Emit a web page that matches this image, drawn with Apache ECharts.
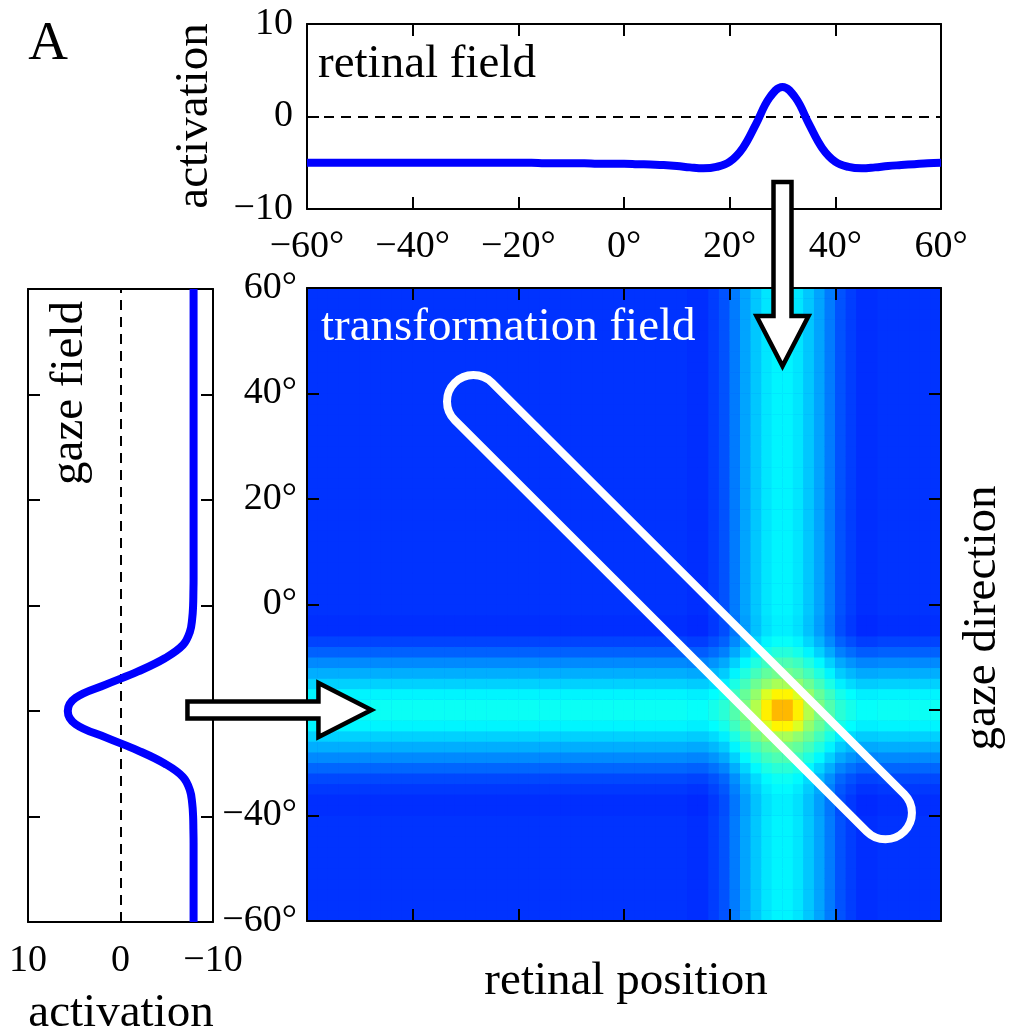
<!DOCTYPE html>
<html>
<head>
<meta charset="utf-8">
<title>transformation field</title>
<script src="https://cdn.jsdelivr.net/npm/echarts@6/dist/echarts.min.js"></script>
<style>
html, body { margin: 0; padding: 0; background: #fff; }
#main { width: 1012px; height: 1033px; }
</style>
</head>
<body>
<div id="main"></div>
<script>
// sample positions (deg) of the two 1D fields
var fieldPos = [-60, -57.5, -55, -52.5, -50, -47.5, -45, -42.5, -40, -37.5, -35, -32.5, -30, -27.5, -25, -22.5,
    -20, -17.5, -15, -12.5, -10, -7.5, -5, -2.5, 0, 2.5, 5, 7.5, 10, 12.5, 15, 17.5, 20, 22.5, 25, 27.5,
    30, 32.5, 35, 37.5, 40, 42.5, 45, 47.5, 50, 52.5, 55, 57.5, 60];
// retinal field activation (top)
var retinalField = [-5.0, -5.0, -5.0, -5.0, -5.0, -5.0, -5.0, -5.0, -5.0, -5.0, -5.0, -5.0, -5.0, -5.0, -5.0, -5.0,
    -5.0, -5.0, -5.05, -5.05, -5.05, -5.05, -5.1, -5.1, -5.1, -5.15, -5.2, -5.25, -5.35, -5.5, -5.6, -5.45, -4.9, -3.4, -0.8, 2.0,
    3.2, 2.0, -0.8, -3.4, -4.9, -5.45, -5.6, -5.5, -5.35, -5.25, -5.15, -5.05, -5.0];
// gaze field activation (left), same positions
var gazeField = [-7.9, -7.9, -7.9, -7.9, -7.9, -7.9, -7.9, -7.88, -7.85, -7.75, -7.5, -6.75, -4.8, -1.9, 1.6, 4.85,
    5.7, 4.85, 1.6, -1.9, -4.8, -6.75, -7.5, -7.75, -7.85, -7.88, -7.9, -7.9, -7.9, -7.9, -7.9, -7.9, -7.9, -7.9, -7.9, -7.9,
    -7.9, -7.9, -7.9, -7.9, -7.9, -7.9, -7.9, -7.9, -7.9, -7.9, -7.9, -7.9, -7.9];

// transformation field cells, 2 deg wide
var cellPos = [-59, -57, -55, -53, -51, -49, -47, -45, -43, -41, -39, -37, -35, -33, -31,
    -29, -27, -25, -23, -21, -19, -17, -15, -13, -11, -9, -7, -5, -3, -1,
    1, 3, 5, 7, 9, 11, 13, 15, 17, 19, 21, 23, 25, 27, 29,
    31, 33, 35, 37, 39, 41, 43, 45, 47, 49, 51, 53, 55, 57, 59];
var heatBase = 0.175;
// input along retinal position (columns)
var retinalInput = [0, 0, 0, 0, 0, 0, 0, 0, 0, 0, 0, 0, 0, 0, 0,
    0, 0, 0, 0, 0, 0, 0, 0, 0, 0, 0, 0, 0, 0, 0,
    0, 0, 0, 0, 0, 0, -0.005, -0.005, 0.01, 0.03, 0.07, 0.11, 0.145, 0.175, 0.19,
    0.19, 0.175, 0.145, 0.11, 0.07, 0.03, 0.01, -0.005, -0.005, 0, 0, 0, 0, 0, 0];
// input along gaze direction (rows)
var gazeInput = [0, 0, 0, 0, 0, 0, 0, 0, 0, 0, -0.005, -0.005, 0.005, 0.02, 0.05,
    0.085, 0.12, 0.155, 0.19, 0.21, 0.21, 0.19, 0.155, 0.12, 0.085, 0.045, 0.015, -0.005, -0.005, 0,
    0, 0, 0, 0, 0, 0, 0, 0, 0, 0, 0, 0, 0, 0, 0,
    0, 0, 0, 0, 0, 0, 0, 0, 0, 0, 0, 0, 0, 0, 0];
// extra activation where both inputs overlap
var peakCols = [25, 27, 29, 31, 33, 35];
var peakRows = [-15, -17, -19, -21, -23, -25];
var peakExtra = [
    [0.005, 0.01, 0.02, 0.02, 0.01, 0.005],
    [0.01, 0.05, 0.08, 0.08, 0.05, 0.01],
    [0.02, 0.08, 0.12, 0.12, 0.08, 0.02],
    [0.02, 0.08, 0.12, 0.12, 0.08, 0.02],
    [0.01, 0.05, 0.08, 0.08, 0.05, 0.01],
    [0.005, 0.01, 0.02, 0.02, 0.01, 0.005]
];
// ridge outline: [retinal1, gaze1, retinal2, gaze2]
var tubeEnds = [[-28.5, 38.5, 49.5, -39.5]];
var tubeRadius = 5;
// arrow tips [retinal, gaze]
var downArrowTip = [30, 45.2];
var rightArrowTip = [-47.8, -20];

var jet = ['#000080', '#0000ff', '#0080ff', '#00ffff', '#80ff80', '#ffff00', '#ff8000', '#ff0000', '#800000'];
var serif = '"Liberation Serif", "DejaVu Serif", serif';

function deg(v) { return (v < 0 ? '\u2212' + (-v) : v) + '°'; }
function num(v) { return v < 0 ? '\u2212' + (-v) : '' + v; }
// the arrow sits on the -20° label, so it is left out
function gazeDeg(v) { return v === -20 ? '' : deg(v); }

var heatData = [];
for (var i = 0; i < cellPos.length; i++) {
    for (var j = 0; j < cellPos.length; j++) {
        var v = heatBase + retinalInput[i] + gazeInput[j];
        var pi = peakCols.indexOf(cellPos[i]), pj = peakRows.indexOf(cellPos[j]);
        if (pi >= 0 && pj >= 0) v += peakExtra[pj][pi];
        heatData.push([i, j, v]);
    }
}

var frame = { show: true, onZero: false, lineStyle: { color: '#000', width: 2 } };
var tickIn = { show: true, inside: true, length: 12, lineStyle: { color: '#000', width: 2 } };
var noTick = { show: false };
var noLabel = { show: false };
var noSplit = { show: false };
function tickLabel(fmt, margin) {
    return { formatter: fmt, fontFamily: serif, fontSize: 38, color: '#000', margin: margin };
}
function valAxis(grid, min, max, step, extra) {
    var a = { gridIndex: grid, type: 'value', min: min, max: max, interval: step,
        axisLine: frame, axisTick: tickIn, axisLabel: noLabel, splitLine: noSplit };
    for (var k in extra) a[k] = extra[k];
    return a;
}

var myChart = echarts.init(document.getElementById('main'));
var option = {
    animation: false,
    backgroundColor: '#fff',
    grid: [
        { left: 307, top: 24, width: 634, height: 185 },   // retinal field
        { left: 28, top: 289, width: 185, height: 633 },   // gaze field
        { left: 307, top: 288, width: 634, height: 633,    // heat map cells
          show: true, backgroundColor: '#0033ff', borderWidth: 0 },
        { left: 307, top: 288, width: 634, height: 633 }   // heat map axes
    ],
    xAxis: [
        valAxis(0, -60, 60, 20, { position: 'bottom', axisLabel: tickLabel(deg, 19) }),
        valAxis(0, -60, 60, 20, { position: 'top' }),
        valAxis(1, -10, 10, 10, { position: 'bottom', inverse: true, axisTick: noTick, axisLabel: tickLabel(num, 20) }),
        valAxis(1, -10, 10, 10, { position: 'top', axisTick: noTick }),
        { gridIndex: 2, type: 'category', data: cellPos, show: false },
        valAxis(3, -60, 60, 20, { position: 'bottom', z: 10 }),
        valAxis(3, -60, 60, 20, { position: 'top', z: 10 })
    ],
    yAxis: [
        valAxis(0, -10, 10, 10, { position: 'left', axisLabel: tickLabel(num, 14) }),
        valAxis(0, -10, 10, 10, { position: 'right', axisTick: noTick }),
        valAxis(1, -60, 60, 20, { position: 'left' }),
        valAxis(1, -60, 60, 20, { position: 'right' }),
        { gridIndex: 2, type: 'category', data: cellPos, show: false },
        valAxis(3, -60, 60, 20, { position: 'left', z: 10, axisLabel: tickLabel(gazeDeg, 10) }),
        valAxis(3, -60, 60, 20, { position: 'right', z: 10 })
    ],
    visualMap: {
        show: false, type: 'continuous', seriesIndex: 2, dimension: 2,
        min: 0, max: 1, inRange: { color: jet }
    },
    series: [
        {
            type: 'line', name: 'retinal field', xAxisIndex: 0, yAxisIndex: 0,
            data: fieldPos.map(function (p, k) { return [p, retinalField[k]]; }),
            smooth: 0.4, symbol: 'none',
            lineStyle: { color: '#0000ff', width: 8 },
            markLine: {
                z: 1, silent: true, symbol: 'none', label: { show: false },
                lineStyle: { color: '#000', width: 2, type: [10, 7] },
                data: [{ yAxis: 0 }]
            }
        },
        {
            type: 'line', name: 'gaze field', xAxisIndex: 2, yAxisIndex: 2,
            data: fieldPos.map(function (p, k) { return [gazeField[k], p]; }),
            smooth: 0.4, symbol: 'none',
            lineStyle: { color: '#0000ff', width: 8 },
            markLine: {
                z: 1, silent: true, symbol: 'none', label: { show: false },
                lineStyle: { color: '#000', width: 2, type: [10, 7] },
                data: [{ xAxis: 0 }]
            }
        },
        {
            type: 'heatmap', name: 'transformation field', xAxisIndex: 4, yAxisIndex: 4,
            data: heatData, progressive: 0, emphasis: { disabled: true }
        },
        {
            type: 'custom', name: 'ridge', xAxisIndex: 5, yAxisIndex: 5, z: 5, silent: true,
            encode: { x: [0, 2], y: [1, 3] },
            data: tubeEnds,
            renderItem: function (params, api) {
                var a = api.coord([api.value(0), api.value(1)]);
                var b = api.coord([api.value(2), api.value(3)]);
                var r = api.size([tubeRadius, 0])[0];
                var dx = b[0] - a[0], dy = b[1] - a[1];
                var len = Math.sqrt(dx * dx + dy * dy);
                var nx = -dy / len * r, ny = dx / len * r;
                var d = 'M' + (a[0] + nx) + ' ' + (a[1] + ny) +
                    ' L' + (b[0] + nx) + ' ' + (b[1] + ny) +
                    ' A' + r + ' ' + r + ' 0 0 0 ' + (b[0] - nx) + ' ' + (b[1] - ny) +
                    ' L' + (a[0] - nx) + ' ' + (a[1] - ny) +
                    ' A' + r + ' ' + r + ' 0 0 0 ' + (a[0] + nx) + ' ' + (a[1] + ny) + ' Z';
                return {
                    type: 'path', shape: { pathData: d },
                    style: { fill: 'none', stroke: '#fff', lineWidth: 8 }
                };
            }
        }
    ]
};
myChart.setOption(option, true);

function txt(s, x, y, size, opts) {
    opts = opts || {};
    return {
        type: 'text', x: x, y: y, rotation: opts.rot || 0, z: 100, silent: true,
        style: {
            text: s, font: size + 'px ' + serif, fill: opts.color || '#000',
            textAlign: opts.align || 'center', textVerticalAlign: 'middle'
        }
    };
}

var d = myChart.convertToPixel({ gridIndex: 3 }, downArrowTip);
var r = myChart.convertToPixel({ gridIndex: 3 }, rightArrowTip);
var arrowStyle = { fill: '#fff', stroke: '#000', lineWidth: 4.5, lineJoin: 'miter' };
myChart.setOption({
    graphic: [
        {
            type: 'polygon', z: 100, silent: true, style: arrowStyle,
            shape: { points: [[d[0] - 9, d[1] - 184], [d[0] + 9, d[1] - 184], [d[0] + 9, d[1] - 50], [d[0] + 26, d[1] - 50],
                [d[0], d[1]], [d[0] - 26, d[1] - 50], [d[0] - 9, d[1] - 50]] }
        },
        {
            type: 'polygon', z: 100, silent: true, style: arrowStyle,
            shape: { points: [[r[0] - 184, r[1] - 8.5], [r[0] - 53, r[1] - 8.5], [r[0] - 53, r[1] - 27], [r[0], r[1]],
                [r[0] - 53, r[1] + 27], [r[0] - 53, r[1] + 8.5], [r[0] - 184, r[1] + 8.5]] }
        },
        txt('A', 48, 45, 55),
        txt('activation', 195, 116, 47, { rot: Math.PI / 2 }),
        txt('retinal field', 318, 65, 47, { align: 'left' }),
        txt('gaze field', 70, 393, 47, { rot: Math.PI / 2 }),
        txt('transformation field', 321, 328, 47, { align: 'left', color: '#fff' }),
        txt('retinal position', 626, 982, 47),
        txt('gaze direction', 983, 618, 47, { rot: Math.PI / 2 }),
        txt('activation', 121, 1014, 47)
    ]
});

window.addEventListener("resize", function () {
    myChart.resize();
});
</script>
</body>
</html>
